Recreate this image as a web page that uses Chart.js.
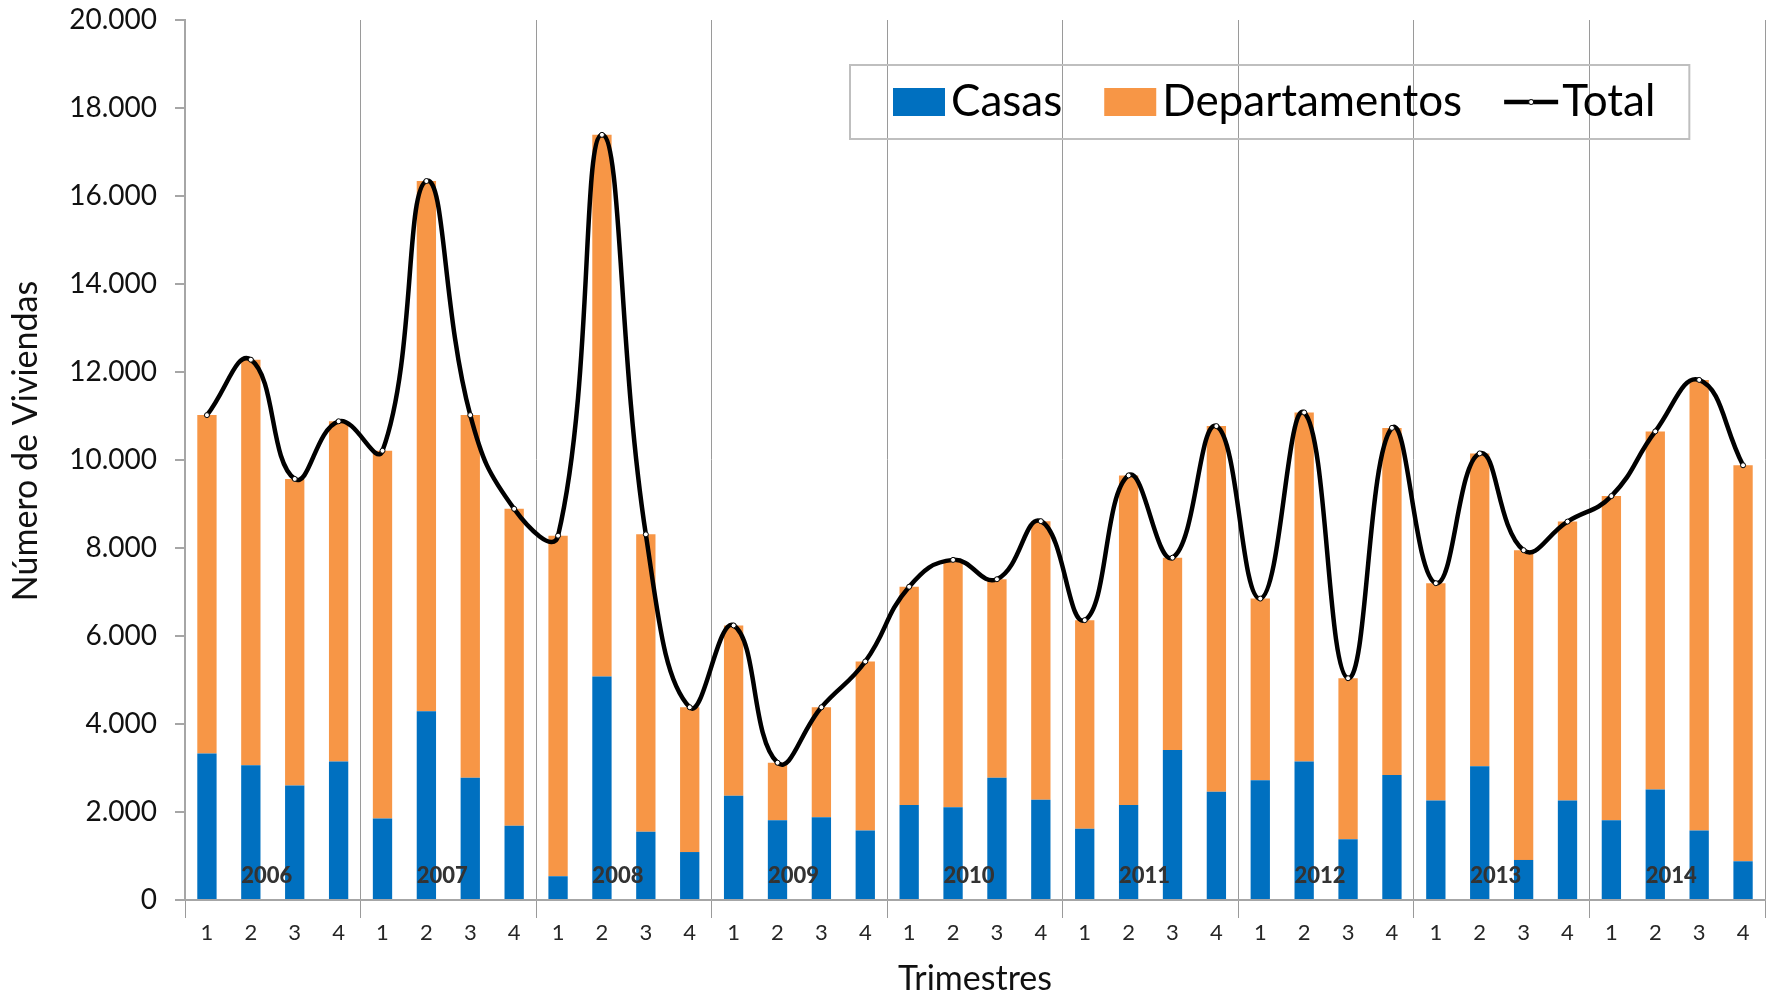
<!DOCTYPE html>
<html>
<head>
<meta charset="utf-8">
<script src="https://cdn.jsdelivr.net/npm/chart.js@4.4.1/dist/chart.umd.min.js"></script>
<style>
    html, body { margin: 0; padding: 0; background: #ffffff; }
    #wrap { width: 1777px; height: 996px; }
</style>
</head>
<body>
<div id="wrap"><canvas id="myChart" width="1777" height="996"></canvas></div>
<script>
//Data (viviendas por trimestre)
var years = ['2006', '2007', '2008', '2009', '2010', '2011', '2012', '2013', '2014'];
var quarters = ['1', '2', '3', '4'];

var casas = [3330, 3060, 2600, 3150, 1850, 4290, 2780, 1690, 540, 5080, 1550, 1090,
    2370, 1810, 1880, 1580, 2160, 2110, 2780, 2280, 1620, 2160, 3410, 2460,
    2720, 3150, 1380, 2840, 2260, 3040, 910, 2260, 1810, 2510, 1580, 880];

var departamentos = [7690, 9220, 6970, 7730, 8360, 12050, 8240, 7200, 7740, 12310, 6760, 3290,
    3870, 1310, 2500, 3840, 4960, 5620, 4510, 6330, 4740, 7490, 4370, 8310,
    4130, 7930, 3660, 7890, 4940, 7110, 7040, 6340, 7370, 8140, 10240, 9000];

var total = [11020, 12280, 9570, 10880, 10210, 16340, 11020, 8890, 8280, 17390, 8310, 4380,
    6240, 3120, 4380, 5420, 7120, 7730, 7290, 8610, 6360, 9650, 7780, 10770,
    6850, 11080, 5040, 10730, 7200, 10150, 7950, 8600, 9180, 10650, 11820, 9880];

var yTicks = [0, 2000, 4000, 6000, 8000, 10000, 12000, 14000, 16000, 18000, 20000];

//Labels: one per trimestre
var labels = [];
for (let i = 0; i < years.length; i++) {
    for (let j = 0; j < quarters.length; j++) {
        labels.push(quarters[j]);
    }
};

const FONT = 'Lato, "Open Sans", sans-serif';
const GRAY = '#a6a6a6';

function fmt(v) {
    return String(v).replace(/\B(?=(\d{3})+(?!\d))/g, '.');
}

// Year names inside the plot, centered on each group of 4
const yearLabels = {
    id: 'yearLabels',
    afterDatasetsDraw(chart) {
        const ctx = chart.ctx;
        const x = chart.scales.x;
        const y = chart.scales.y;
        ctx.save();
        ctx.font = '900 22px ' + FONT;
        ctx.fillStyle = '#333333';
        ctx.textAlign = 'center';
        ctx.textBaseline = 'middle';
        for (let i = 0; i < years.length; i++) {
            const cx = (x.getPixelForValue(i * 4 + 1) + x.getPixelForValue(i * 4 + 2)) / 2 - 6;
            ctx.fillText(years[i], cx, y.getPixelForValue(0) - 24);
        }
        ctx.restore();
    }
};

// Y axis title
const yTitle = {
    id: 'yTitle',
    afterDraw(chart) {
        const ctx = chart.ctx;
        const a = chart.chartArea;
        ctx.save();
        ctx.translate(26, (a.top + a.bottom) / 2 - 19);
        ctx.rotate(-Math.PI / 2);
        ctx.font = '34px ' + FONT;
        ctx.fillStyle = '#111111';
        ctx.textAlign = 'center';
        ctx.textBaseline = 'middle';
        ctx.fillText('Número de Viviendas', 0, 0);
        ctx.restore();
    }
};

// Boxed legend inside the plot
const boxLegend = {
    id: 'boxLegend',
    afterDraw(chart) {
        const ctx = chart.ctx;
        const a = chart.chartArea;
        const ds = chart.data.datasets;
        const left = a.left + 665;
        const top = a.top + 45;
        const h = 74;
        const cy = top + h / 2;
        ctx.save();
        ctx.font = '44px ' + FONT;
        ctx.textBaseline = 'middle';
        let cx = left + 43;
        const order = [0, 1, 2];
        order.forEach(function (k, n) {
            const d = ds[k];
            if (d.type === 'line') {
                ctx.strokeStyle = '#000';
                ctx.lineWidth = 4.5;
                ctx.beginPath();
                ctx.moveTo(cx, cy);
                ctx.lineTo(cx + 54, cy);
                ctx.stroke();
                ctx.beginPath();
                ctx.arc(cx + 27, cy, 2.5, 0, Math.PI * 2);
                ctx.fillStyle = '#fff';
                ctx.fill();
                ctx.lineWidth = 1;
                ctx.stroke();
                cx += 58;
            } else {
                ctx.fillStyle = d.backgroundColor;
                ctx.fillRect(cx, cy - 14, 52, 28);
                cx += 58;
            }
            ctx.fillStyle = '#000';
            ctx.fillText(d.label, cx, cy);
            cx += ctx.measureText(d.label).width;
            if (n < order.length - 1) cx += 42;
        });
        const w = cx + 34 - left;
        ctx.strokeStyle = '#bfbfbf';
        ctx.lineWidth = 2;
        ctx.strokeRect(left, top, w, h);
        ctx.restore();
    }
};

const data = {
    labels: labels,
    datasets: [
        {
            type: 'bar',
            label: 'Casas',
            data: casas,
            backgroundColor: '#0070c0',
            stack: 'viv',
            order: 2,
            barPercentage: 0.44,
            categoryPercentage: 1.0
        },
        {
            type: 'bar',
            label: 'Departamentos',
            data: departamentos,
            backgroundColor: '#f79646',
            stack: 'viv',
            order: 2,
            barPercentage: 0.44,
            categoryPercentage: 1.0
        },
        {
            type: 'line',
            label: 'Total',
            data: total,
            stack: 'tot',
            order: 0,
            borderColor: '#000000',
            borderWidth: 4.5,
            tension: 0.45,
            pointRadius: 2.5,
            pointBackgroundColor: '#ffffff',
            pointBorderColor: '#000000',
            pointBorderWidth: 1,
            fill: false,
            clip: false
        }
    ]
};

const config = {
    type: 'bar',
    data: data,
    options: {
        responsive: false,
        animation: false,
        devicePixelRatio: 1,
        layout: { padding: { left: 0, right: 12, top: 20, bottom: 0 } },
        plugins: {
            legend: { display: false },
            tooltip: { enabled: false }
        },
        scales: {
            x: {
                stacked: true,
                offset: true,
                grid: {
                    offset: true,
                    drawOnChartArea: true,
                    drawTicks: true,
                    tickLength: 18,
                    lineWidth: 1,
                    color: function (c) {
                        return (c.index === undefined || c.index % 4 === 0) ? '#9a9a9a' : 'rgba(0,0,0,0)';
                    }
                },
                border: { display: true, color: GRAY, width: 2 },
                ticks: {
                    font: { family: FONT, size: 22 },
                    color: '#262626',
                    padding: 2,
                    maxRotation: 0,
                    autoSkip: false
                },
                title: {
                    display: true,
                    text: 'Trimestres',
                    font: { family: FONT, size: 34, lineHeight: 1 },
                    color: '#111111',
                    padding: { top: 0, bottom: 0 }
                },
                afterFit: function (s) {
                    s.height = 96;
                    s.paddingLeft = 0;
                    s.paddingRight = 0;
                }
            },
            y: {
                stacked: true,
                min: 0,
                max: 20000,
                afterBuildTicks: function (s) {
                    s.ticks = yTicks.map(function (v) { return { value: v }; });
                },
                grid: {
                    drawOnChartArea: false,
                    drawTicks: true,
                    tickLength: 10,
                    color: GRAY,
                    lineWidth: 2
                },
                border: { display: true, color: GRAY, width: 2 },
                ticks: {
                    font: { family: FONT, size: 28 },
                    color: '#111111',
                    padding: 18,
                    callback: function (v) { return fmt(v); }
                },
                afterFit: function (s) {
                    s.width = 185;
                    s.paddingTop = 14;
                    s.paddingBottom = 0;
                }
            }
        }
    },
    plugins: [yearLabels, yTitle, boxLegend]
};

var myChart = new Chart(
    document.getElementById('myChart'),
    config
);
</script>
</body>
</html>
